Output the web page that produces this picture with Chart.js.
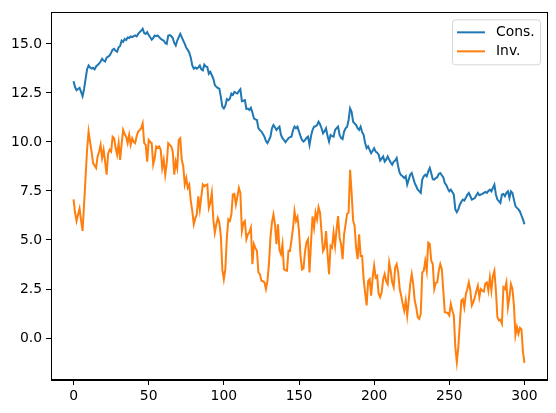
<!DOCTYPE html>
<html>
<head>
<meta charset="utf-8">
<script src="https://cdn.jsdelivr.net/npm/chart.js@4.4.1/dist/chart.umd.min.js"></script>
<style>
  html, body { margin: 0; padding: 0; background: #fff; }
  #wrap { width: 556px; height: 413px; position: relative; }
</style>
</head>
<body>
<div id="wrap"><canvas id="chart"></canvas></div>
<script>
// series, one value per step 0..300
const consValues = [
  13.10, 12.80, 12.64, 12.70, 12.76, 12.55, 12.33, 12.70, 13.20, 13.70,
  13.90, 13.80, 13.74, 13.78, 13.70, 13.85, 13.92, 14.00, 14.10, 14.24,
  14.15, 14.10, 14.30, 14.35, 14.41, 14.55, 14.70, 14.75, 14.65, 14.60,
  14.83, 14.90, 15.17, 15.10, 15.25, 15.20, 15.33, 15.30, 15.38, 15.35,
  15.40, 15.43, 15.38, 15.51, 15.60, 15.68, 15.77, 15.55, 15.51, 15.60,
  15.45, 15.34, 15.22, 15.30, 15.43, 15.40, 15.43, 15.35, 15.26, 15.20,
  15.17, 15.05, 15.00, 15.43, 15.45, 15.40, 15.30, 15.05, 14.92, 15.17,
  15.35, 15.51, 15.35, 15.17, 15.00, 14.80, 14.70, 14.55, 14.30, 13.90,
  13.74, 13.80, 13.74, 13.80, 13.90, 13.70, 13.65, 13.94, 13.85, 13.82,
  13.48, 13.57, 13.40, 13.23, 12.90, 12.81, 12.75, 12.72, 12.30, 11.80,
  11.71, 11.85, 12.18, 12.13, 12.20, 12.47, 12.40, 12.55, 12.50, 12.47,
  12.60, 12.69, 12.08, 12.10, 12.13, 11.68, 11.70, 11.63, 11.74, 11.50,
  11.20, 11.15, 11.12, 10.70, 10.60, 10.53, 10.40, 10.27, 10.05, 9.94,
  10.10, 10.27, 10.70, 10.86, 10.75, 10.61, 10.70, 10.78, 10.36, 10.19,
  10.10, 9.99, 10.10, 10.19, 10.25, 10.27, 10.60, 10.78, 10.70, 10.78,
  10.53, 10.30, 10.10, 10.02, 10.10, 10.20, 10.27, 9.85, 10.30, 10.61,
  10.78, 10.80, 10.86, 11.03, 10.90, 10.70, 10.44, 10.55, 10.70, 10.30,
  10.02, 10.36, 10.30, 10.27, 10.61, 10.70, 10.78, 10.36, 10.20, 10.15,
  10.53, 10.70, 10.78, 11.12, 11.71, 11.54, 11.03, 10.95, 10.86, 10.70,
  10.61, 10.78, 10.50, 10.36, 9.94, 9.68, 9.77, 9.60, 9.43, 9.55,
  9.68, 9.51, 9.45, 9.35, 9.05, 9.15, 9.26, 9.00, 9.10, 9.26,
  9.09, 8.95, 8.84, 9.00, 9.05, 9.18, 8.75, 8.42, 8.30, 8.25,
  8.16, 8.25, 7.83, 8.08, 8.33, 8.42, 8.16, 7.90, 7.74, 7.57,
  7.49, 7.40, 8.08, 8.25, 8.33, 8.25, 8.50, 8.67, 8.40, 8.10,
  8.08, 8.16, 8.20, 8.37, 8.41, 8.30, 8.19, 7.90, 7.80, 7.62,
  7.48, 7.57, 7.45, 7.32, 6.56, 6.42, 6.56, 6.80, 6.95, 7.06,
  7.01, 7.15, 7.30, 7.40, 7.23, 7.06, 7.10, 7.14, 7.28, 7.40,
  7.28, 7.32, 7.35, 7.40, 7.45, 7.40, 7.50, 7.57, 7.48, 7.65,
  7.82, 7.32, 7.06, 6.98, 6.89, 7.32, 7.35, 7.23, 7.40, 7.48,
  7.14, 7.48, 7.40, 7.06, 6.73, 6.64, 6.56, 6.45, 6.25, 6.05,
  5.80
];
const invValues = [
  7.07, 6.40, 5.97, 6.30, 6.60, 6.00, 5.46, 6.80, 8.20, 9.60,
  10.53, 10.00, 9.50, 8.92, 8.80, 8.67, 9.26, 9.50, 9.85, 9.18,
  9.60, 9.00, 8.33, 9.40, 9.60, 9.51, 10.27, 10.19, 9.70, 9.35,
  9.94, 9.09, 9.90, 10.61, 10.40, 10.27, 9.94, 10.36, 9.85, 10.19,
  10.00, 9.94, 10.30, 10.53, 10.60, 10.70, 10.95, 9.94, 9.85, 9.00,
  10.10, 10.00, 9.94, 8.84, 9.18, 9.77, 9.70, 9.77, 9.60, 8.67,
  9.09, 8.33, 8.92, 9.94, 9.85, 9.77, 9.50, 8.33, 9.00, 8.67,
  10.10, 10.19, 9.09, 8.75, 7.83, 8.16, 7.66, 7.83, 7.00, 6.47,
  5.80, 6.10, 6.30, 7.23, 6.55, 7.20, 7.83, 7.74, 7.80, 7.83,
  6.64, 6.90, 7.40, 6.05, 5.37, 5.80, 6.13, 5.90, 5.20, 3.50,
  3.00, 3.51, 5.12, 6.05, 5.97, 6.30, 7.32, 7.35, 6.81, 7.20,
  7.66, 7.40, 5.46, 5.88, 5.97, 5.04, 5.29, 5.40, 5.63, 3.77,
  4.79, 4.60, 4.45, 3.35, 3.26, 2.92, 2.90, 2.84, 2.50, 2.90,
  3.77, 5.12, 5.90, 6.30, 5.80, 4.79, 5.80, 4.50, 4.28, 4.79,
  3.51, 3.45, 3.43, 4.45, 4.44, 5.00, 5.60, 6.47, 5.97, 6.17,
  5.46, 4.20, 3.50, 3.55, 4.40, 4.90, 5.04, 3.35, 4.87, 6.20,
  5.63, 6.40, 6.05, 6.67, 6.39, 5.40, 4.44, 4.61, 5.46, 4.27,
  3.26, 4.70, 4.61, 5.37, 4.70, 5.54, 6.22, 5.12, 4.78, 4.02,
  5.29, 5.80, 6.34, 6.39, 8.58, 7.40, 6.00, 5.71, 4.60, 4.02,
  5.29, 4.19, 4.19, 3.00, 2.30, 1.66, 2.90, 3.00, 2.16, 3.09,
  3.69, 3.09, 3.17, 2.25, 2.08, 2.33, 3.00, 3.26, 2.90, 2.75,
  3.86, 3.43, 2.84, 2.59, 3.60, 3.77, 3.35, 2.50, 2.16, 1.74,
  1.40, 1.91, 1.15, 1.91, 2.75, 3.26, 2.75, 1.90, 1.57, 1.06,
  0.98, 1.23, 3.35, 3.43, 3.94, 3.43, 4.87, 4.80, 3.94, 3.77,
  2.50, 2.81, 2.84, 3.43, 3.77, 3.52, 2.42, 1.32, 1.30, 1.27,
  1.15, 1.74, 1.40, 1.15, -0.46, -1.22, -0.46, 0.73, 1.91, 1.99,
  1.57, 2.24, 2.50, 2.84, 2.42, 1.66, 1.83, 2.08, 2.40, 2.67,
  2.08, 2.50, 2.42, 2.38, 2.79, 2.84, 2.42, 3.09, 2.42, 3.17,
  3.43, 2.42, 1.06, 0.90, 0.93, 0.73, 2.59, 2.50, 2.84, 1.57,
  2.08, 2.76, 2.50, 1.66, 0.14, 0.56, 0.22, 0.52, 0.45, -0.70,
  -1.27
];
const seriesLabels = ['Cons.', 'Inv.'];
const seriesColors = ['#1f77b4', '#ff7f0e'];
const xTickValues = [0, 50, 100, 150, 200, 250, 300];
const yTickValues = [0, 2.5, 5, 7.5, 10, 12.5, 15];

const FONT = "'DejaVu Sans', sans-serif";
const FONT_SIZE = 13.9;

function toPoints(values) {
  return values.map((v, i) => ({ x: i, y: v }));
}

// full box round the plot, like matplotlib spines
const framePlugin = {
  id: 'frame',
  afterDraw(chart) {
    const a = chart.chartArea;
    const ctx = chart.ctx;
    ctx.save();
    ctx.strokeStyle = '#000';
    ctx.lineWidth = 1;
    ctx.strokeRect(Math.round(a.left) + 0.5, Math.round(a.top) + 0.5,
      Math.round(a.right - a.left), Math.round(a.bottom - a.top));
    ctx.restore();
  }
};

// legend box in the upper right corner
const legendPlugin = {
  id: 'boxLegend',
  afterDraw(chart) {
    const a = chart.chartArea;
    const ctx = chart.ctx;
    const w = 88, h = 45;
    const x = a.right - 7 - w;
    const y = a.top + 7;
    ctx.save();
    ctx.beginPath();
    ctx.roundRect(x + 0.5, y + 0.5, w, h, 3);
    ctx.fillStyle = 'rgba(255,255,255,0.8)';
    ctx.fill();
    ctx.strokeStyle = 'rgba(204,204,204,0.8)';
    ctx.lineWidth = 1;
    ctx.stroke();
    ctx.font = FONT_SIZE + 'px ' + FONT;
    ctx.textBaseline = 'middle';
    chart.data.datasets.forEach((ds, i) => {
      const ly = y + 13 + i * 19;
      ctx.beginPath();
      ctx.moveTo(x + 5, ly);
      ctx.lineTo(x + 33, ly);
      ctx.strokeStyle = ds.borderColor;
      ctx.lineWidth = 2;
      ctx.stroke();
      ctx.fillStyle = '#000';
      ctx.fillText(ds.label, x + 44, ly);
    });
    ctx.restore();
  }
};

const ctx = document.getElementById('chart').getContext('2d');
new Chart(ctx, {
  type: 'line',
  data: {
    datasets: [
      {
        label: seriesLabels[0],
        data: toPoints(consValues),
        borderColor: seriesColors[0],
        borderWidth: 2,
        pointRadius: 0,
        fill: false,
        tension: 0
      },
      {
        label: seriesLabels[1],
        data: toPoints(invValues),
        borderColor: seriesColors[1],
        borderWidth: 2,
        pointRadius: 0,
        fill: false,
        tension: 0
      }
    ]
  },
  options: {
    responsive: true,
    maintainAspectRatio: false,
    animation: false,
    layout: { padding: { left: 0, right: 9, top: 10, bottom: 0 } },
    plugins: {
      legend: { display: false },
      tooltip: { enabled: false }
    },
    scales: {
      x: {
        type: 'linear',
        min: -15,
        max: 315,
        afterBuildTicks(scale) {
          scale.ticks = xTickValues.map(v => ({ value: v }));
        },
        afterFit(scale) { scale.height = 33; },
        grid: {
          drawOnChartArea: false,
          drawTicks: true,
          tickLength: 5,
          tickColor: '#000'
        },
        border: { display: true, color: '#000' },
        ticks: {
          color: '#000',
          padding: 3,
          maxRotation: 0,
          font: { family: FONT, size: FONT_SIZE },
          callback: v => String(v)
        }
      },
      y: {
        type: 'linear',
        min: -2.14,
        max: 16.61,
        afterBuildTicks(scale) {
          scale.ticks = yTickValues.map(v => ({ value: v }));
        },
        afterFit(scale) { scale.width = 51; },
        grid: {
          drawOnChartArea: false,
          drawTicks: true,
          tickLength: 5,
          tickColor: '#000'
        },
        border: { display: true, color: '#000' },
        ticks: {
          color: '#000',
          padding: 4,
          font: { family: FONT, size: FONT_SIZE },
          callback: v => v.toFixed(1)
        }
      }
    }
  },
  plugins: [framePlugin, legendPlugin]
});
</script>
</body>
</html>
